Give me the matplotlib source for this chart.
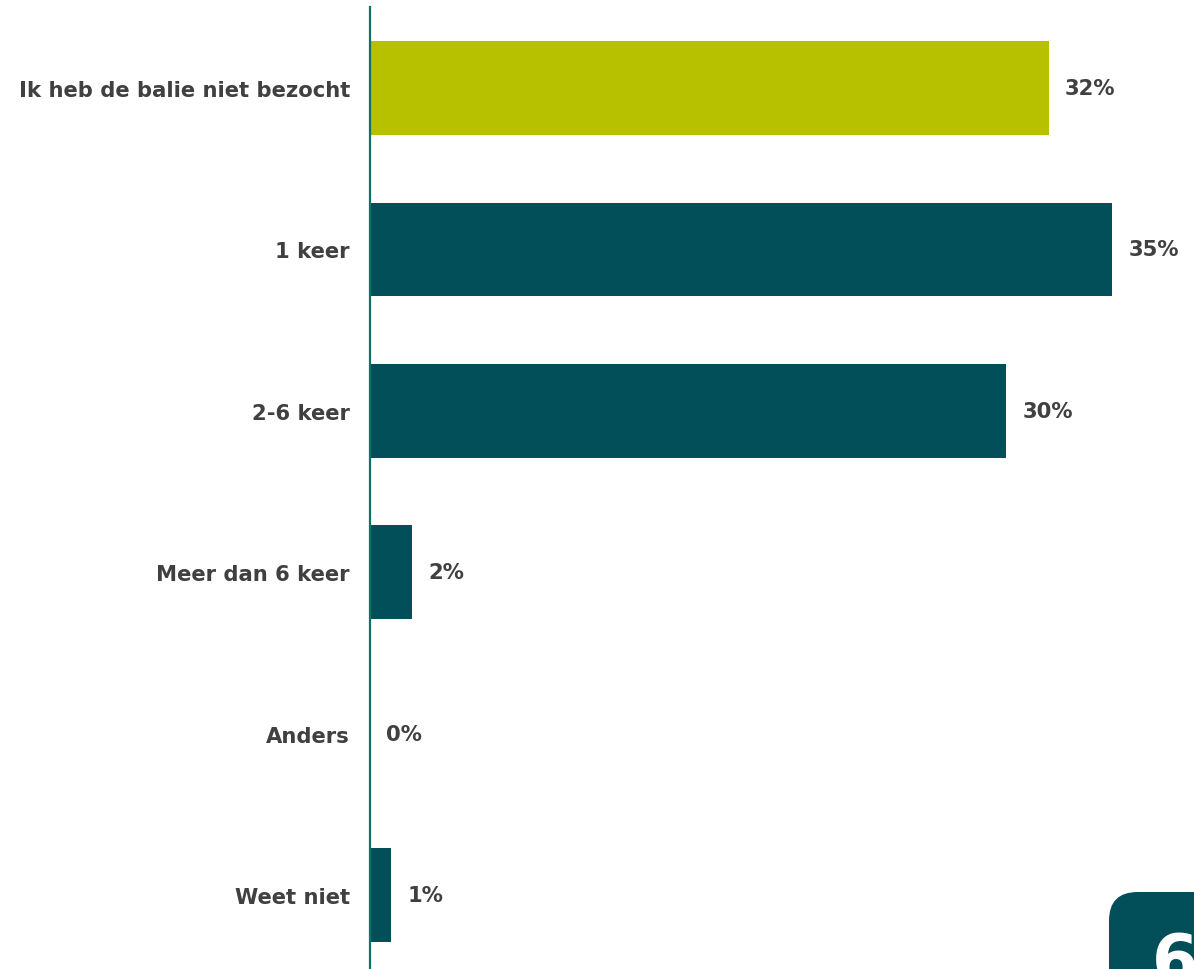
import matplotlib
matplotlib.use("Agg")
import matplotlib.pyplot as plt
from matplotlib.patches import FancyBboxPatch

categories = ["Ik heb de balie niet bezocht", "1 keer", "2-6 keer",
              "Meer dan 6 keer", "Anders", "Weet niet"]
values = [32, 35, 30, 2, 0, 1]
highlight = [True, False, False, False, False, False]

GREEN = "#B8C100"
TEAL = "#024F5A"
AXIS = "#0B7468"
TEXT = "#404040"

fig = plt.figure(figsize=(11.94, 9.70), dpi=100)
ax = fig.add_axes([370 / 1194, 0, 1 - 370 / 1194, 1 - 8 / 970])

y = list(range(len(categories)))
colors = [GREEN if h else TEAL for h in highlight]
ax.barh(y, values, height=0.58, color=colors)

for yi, v in zip(y, values):
    ax.text(v + 0.75, yi, f"{v}%", va="center", ha="left",
            fontsize=15.2, fontweight="bold", color=TEXT)

ax.set_xlim(0, 38.85)
ax.set_ylim(5.459, -0.502)
ax.set_yticks(y)
ax.set_yticklabels(categories, fontsize=15.2, fontweight="bold", color=TEXT)
ax.tick_params(axis="y", length=0, pad=14.4)
ax.set_xticks([])
for s in ["top", "right", "bottom"]:
    ax.spines[s].set_visible(False)
ax.spines["left"].set_color(AXIS)
ax.spines["left"].set_linewidth(1.6)

# page number badge in the lower right corner
badge = FancyBboxPatch((1109 / 1194, -0.05), 0.2, 0.05 + 77 / 970,
                       boxstyle="round,pad=0,rounding_size=0.024",
                       transform=fig.transFigure, facecolor=TEAL,
                       edgecolor="none", mutation_aspect=1194 / 970)
fig.patches.append(badge)
fig.text(1152 / 1194, -27 / 970, "6", ha="left", va="bottom",
         fontsize=48, fontweight="bold", color="white")

fig.savefig("out.png", dpi=100, facecolor="white")
